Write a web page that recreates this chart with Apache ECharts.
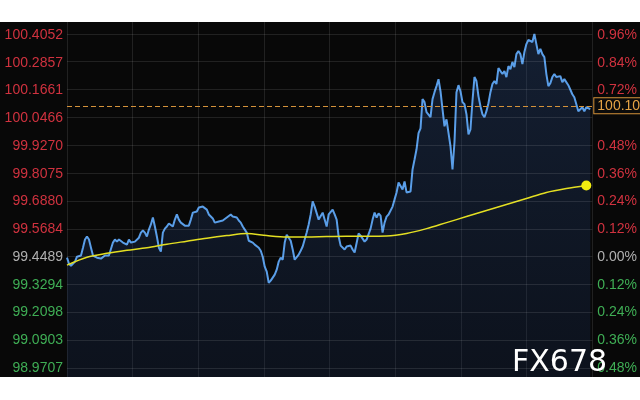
<!DOCTYPE html>
<html>
<head>
<meta charset="utf-8">
<script src="https://cdn.jsdelivr.net/npm/echarts@6/dist/echarts.min.js"></script>
<style>
html,body{margin:0;padding:0;background:#fff;}
#c{width:640px;height:400px;}
</style>
</head>
<body>
<div id="c"></div>
<script>
// ---- data ----
const priceTicks = [100.4052,100.2857,100.1661,100.0466,99.9270,99.8075,99.6880,99.5684,99.4489,99.3294,99.2098,99.0903,98.9707];
const pctTicks = [0.96,0.84,0.72,0.60,0.48,0.36,0.24,0.12,0.00,-0.12,-0.24,-0.36,-0.48];
const basePrice = 99.4489;
const lastPrice = 100.10;
const lastPriceLabel = '100.10';
const watermark = 'FX678';

const priceSeries = [
99.446,99.420,99.411,99.416,99.429,99.450,99.450,99.455,99.489,99.524,
99.537,99.524,99.489,99.455,99.450,99.446,99.442,99.442,99.450,99.455,
99.459,99.455,99.459,99.511,99.524,99.515,99.524,99.519,99.511,99.507,
99.502,99.524,99.511,99.511,99.515,99.515,99.532,99.554,99.563,99.554,
99.537,99.567,99.589,99.619,99.580,99.537,99.489,99.472,99.554,99.571,
99.580,99.593,99.593,99.580,99.610,99.632,99.610,99.597,99.597,99.584,
99.576,99.584,99.610,99.640,99.645,99.645,99.662,99.666,99.666,99.662,
99.653,99.632,99.627,99.615,99.597,99.589,99.602,99.602,99.606,99.610,
99.619,99.627,99.632,99.623,99.623,99.619,99.606,99.597,99.580,99.567,
99.554,99.519,99.515,99.511,99.502,99.494,99.489,99.476,99.450,99.407,
99.386,99.338,99.347,99.351,99.373,99.394,99.429,99.446,99.437,99.511,
99.545,99.532,99.519,99.481,99.437,99.429,99.459,99.476,99.494,99.524,
99.554,99.589,99.632,99.688,99.666,99.662,99.610,99.615,99.640,99.610,
99.580,99.632,99.636,99.653,99.632,99.610,99.537,99.498,99.502,99.481,
99.494,99.498,99.498,99.481,99.468,99.472,99.550,99.541,99.537,99.515,
99.524,99.532,99.571,99.610,99.640,99.619,99.636,99.627,99.554,99.597,
99.623,99.632,99.632,99.666,99.697,99.727,99.770,99.774,99.740,99.774,
99.727,99.731,99.731,99.826,99.869,99.913,99.982,100.003,100.129,100.116,
100.073,100.077,100.051,100.129,100.159,100.185,100.215,100.163,100.086,100.012,
100.042,100.042,99.926,99.826,99.943,100.159,100.189,100.163,100.116,100.107,
100.064,99.977,99.999,100.120,100.224,100.207,100.142,100.098,100.064,100.051,
100.077,100.111,100.159,100.194,100.207,100.194,100.263,100.267,100.237,100.250,
100.224,100.271,100.258,100.289,100.267,100.323,100.336,100.323,100.280,100.332,
100.366,100.384,100.388,100.375,100.410,100.366,100.323,100.345,100.323,100.310,
100.237,100.185,100.198,100.224,100.237,100.224,100.224,100.228,100.202,100.215,
100.207,100.189,100.181,100.150,100.137,100.107,100.077,100.077,100.094,100.077,
100.094,100.094,100.086
];
// average line, sampled every avgStep points
const avgSeries = [
99.414,99.448,99.465,99.478,99.489,99.504,99.517,99.530,99.541,99.550,
99.541,99.535,99.535,99.537,99.538,99.538,99.539,99.550,99.571,99.597,
99.623,99.649,99.675,99.701,99.727,99.744,99.757
];
const avgStep = 10;

// ---- build options ----
const nCat = priceSeries.length + 1;
const cats = [];
for (let i = 0; i < nCat; i++) cats.push(String(i));
const avgFull = new Array(nCat).fill(null);
avgSeries.forEach((v, k) => { avgFull[k * avgStep] = v; });
const avgLast = (avgSeries.length - 1) * avgStep;

const stepP = (priceTicks[0] - priceTicks[priceTicks.length - 1]) / (priceTicks.length - 1);
const padTop = 13 / 27.75, padBot = 9 / 27.75;
const yMin = priceTicks[priceTicks.length - 1] - stepP * padBot;
const yMax = priceTicks[0] + stepP * padTop;
const stepPct = 0.12;
const pMin = pctTicks[pctTicks.length - 1] - stepPct * padBot;
const pMax = pctTicks[0] + stepPct * padTop;

const RED = '#d0323f', GREEN = '#3fae55', GRAY = '#b0b0b0';
const FONT = "'Liberation Sans', Arial, sans-serif";
const gridColor = 'rgba(255,255,255,0.10)';

const gridMarks = priceTicks.map(v => ({
  yAxis: v,
  lineStyle: { color: gridColor, type: 'solid', width: 1 },
  label: { show: false }
}));
gridMarks.push({
  yAxis: lastPrice,
  lineStyle: { color: '#d4923a', type: [5, 3], width: 1 },
  label: {
    show: true, position: 'end', formatter: lastPriceLabel, distance: 2,
    color: '#e6a445', fontSize: 14, fontFamily: FONT,
    backgroundColor: '#0b0b0b', borderColor: '#d4923a', borderWidth: 1,
    padding: [1, 3, 0, 3]
  }
});

const chart = echarts.init(document.getElementById('c'), null, { renderer: 'canvas' });
chart.setOption({
  animation: false,
  backgroundColor: '#080808',
  grid: { left: 67, right: 47, top: 22, bottom: 23, containLabel: false },
  xAxis: [
    { type: 'category', data: cats, boundaryGap: false, show: false },
    { type: 'value', min: 0, max: 8, interval: 1, show: true, position: 'bottom',
      axisLine: { show: false }, axisTick: { show: false }, axisLabel: { show: false },
      splitLine: { show: true, lineStyle: { color: gridColor, width: 1 } } }
  ],
  yAxis: [
    { type: 'value', min: yMin, max: yMax, position: 'left',
      axisLine: { show: false }, axisTick: { show: false }, splitLine: { show: false },
      axisLabel: {
        customValues: priceTicks, margin: 4, fontSize: 14, fontFamily: FONT,
        formatter: v => v.toFixed(4),
        color: v => (Math.abs(v - basePrice) < 1e-6 ? GRAY : (v > basePrice ? RED : GREEN))
      } },
    { type: 'value', min: pMin, max: pMax, position: 'right',
      axisLine: { show: false }, axisTick: { show: false }, splitLine: { show: false },
      axisLabel: {
        customValues: pctTicks, margin: 5, fontSize: 14, fontFamily: FONT,
        formatter: v => (Math.abs(Math.abs(v) - 0.60) < 1e-6 && v > 0 ? '' : Math.abs(v).toFixed(2) + '%'),
        color: v => (Math.abs(v) < 1e-6 ? GRAY : (v > 0 ? RED : GREEN))
      } }
  ],
  series: [
    {
      type: 'line', name: 'price', xAxisIndex: 0, yAxisIndex: 0,
      data: priceSeries, showSymbol: false, symbol: 'none',
      lineStyle: { color: '#5a9ee8', width: 2 },
      areaStyle: {
        origin: 'start',
        color: new echarts.graphic.LinearGradient(0, 0, 0, 1, [
          { offset: 0, color: 'rgba(45,80,140,0.45)' },
          { offset: 1, color: 'rgba(25,45,85,0.38)' }
        ])
      },
      markLine: { silent: true, symbol: ['none', 'none'], animation: false, data: gridMarks },
      z: 3
    },
    {
      type: 'line', name: 'avg', xAxisIndex: 0, yAxisIndex: 0,
      data: avgFull, connectNulls: true, smooth: 0.3,
      showSymbol: true, showAllSymbol: true, symbol: 'circle',
      symbolSize: (v, p) => (p.dataIndex === avgLast ? 10 : 0),
      itemStyle: { color: '#f2ec10', borderWidth: 0 },
      lineStyle: { color: '#e4df22', width: 1.5 },
      z: 4
    }
  ],
  graphic: [
    { type: 'rect', shape: { x: 0, y: 0, width: 640, height: 22 }, style: { fill: '#ffffff' }, z: 100 },
    { type: 'rect', shape: { x: 0, y: 377, width: 640, height: 23 }, style: { fill: '#ffffff' }, z: 100 },
    { type: 'text', left: 512, top: 348, z: 101,
      style: { text: watermark, fill: '#ffffff', font: "30px 'DejaVu Sans', sans-serif" } }
  ]
});
</script>
</body>
</html>
